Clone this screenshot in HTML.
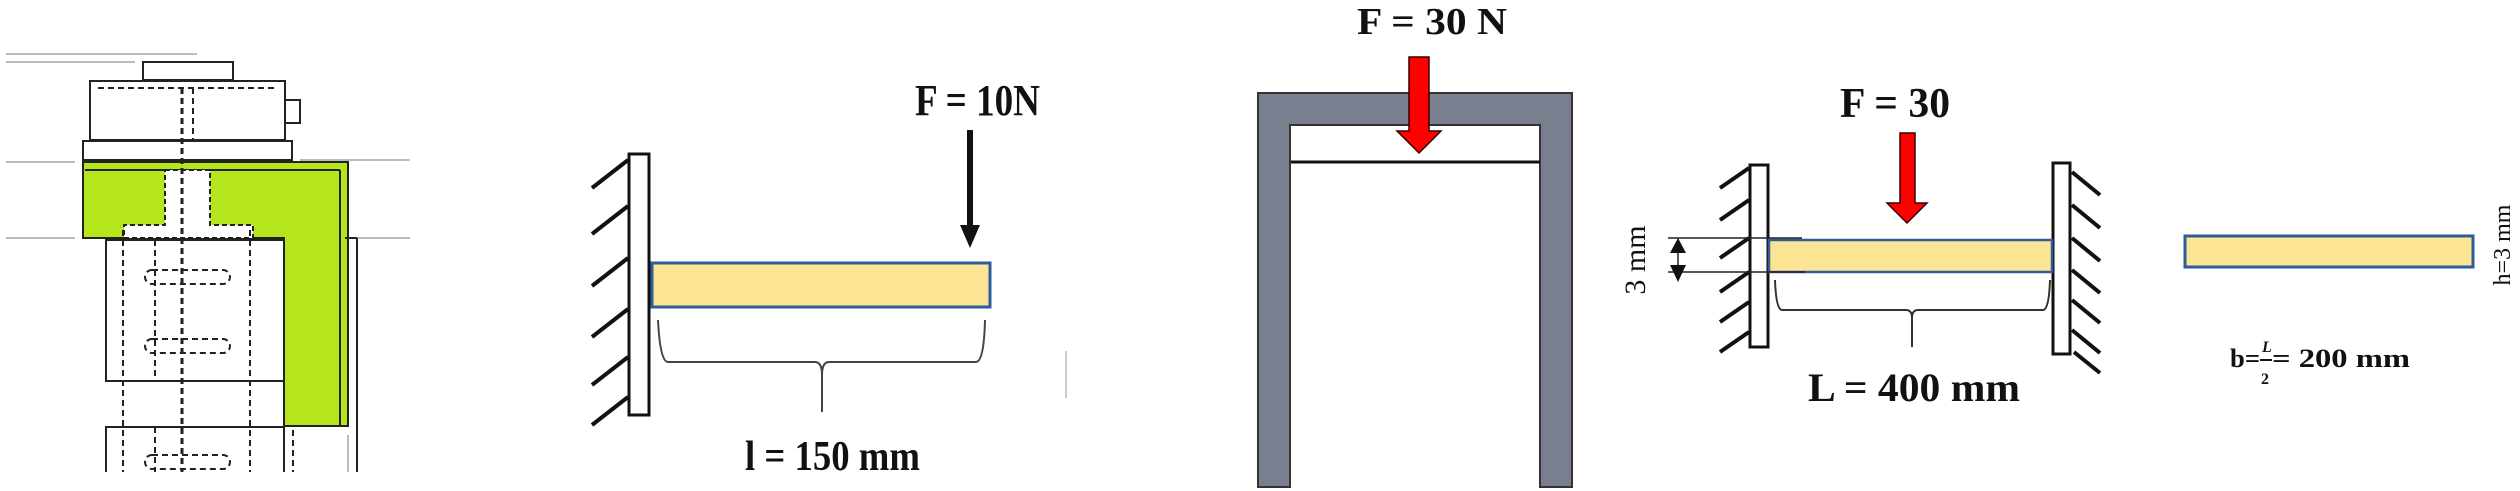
<!DOCTYPE html>
<html><head><meta charset="utf-8"><style>
html,body{margin:0;padding:0;background:#fff;}
svg{display:block;}
text{font-family:"Liberation Serif",serif;font-weight:bold;fill:#111;}
</style></head><body>
<svg width="2520" height="491" viewBox="0 0 2520 491" xmlns="http://www.w3.org/2000/svg">
<!-- Panel 1 -->
<g stroke="#bbb" stroke-width="2">
<line x1="6" y1="54" x2="197" y2="54"/><line x1="6" y1="62" x2="135" y2="62"/>
<line x1="6" y1="162" x2="75" y2="162"/><line x1="300" y1="160" x2="410" y2="160"/>
<line x1="6" y1="238" x2="75" y2="238"/><line x1="345" y1="238" x2="410" y2="238"/>
<line x1="348" y1="435" x2="348" y2="472"/>
</g>
<path d="M83 162 L348 162 L348 426 L284 426 L284 238 L83 238 Z" fill="#b5e61d" stroke="#222" stroke-width="2"/>
<line x1="340" y1="170" x2="340" y2="426" stroke="#222" stroke-width="2"/>
<line x1="85" y1="170" x2="340" y2="170" stroke="#222" stroke-width="2"/>
<path d="M165 170 L210 170 L210 225 L253 225 L253 238 L124 238 L124 225 L165 225 Z" fill="#fff" stroke="#222" stroke-width="2" stroke-dasharray="5 3"/>
<g fill="none" stroke="#222" stroke-width="2">
<rect x="143" y="62" width="90" height="18"/>
<rect x="90" y="81" width="195" height="59"/>
<rect x="285" y="100" width="15" height="23"/>
<rect x="83" y="141" width="209" height="19"/>
<rect x="106" y="240" width="178" height="141"/>
<path d="M106 472 L106 427 L284 427 L284 472"/>
<line x1="357" y1="238" x2="357" y2="472"/>
<line x1="345" y1="238" x2="357" y2="238"/>
</g>
<g stroke="#222" stroke-width="2" stroke-dasharray="6 4" fill="none">
<line x1="123" y1="230" x2="123" y2="472"/><line x1="155" y1="240" x2="155" y2="381"/>
<line x1="155" y1="427" x2="155" y2="472"/>
<line x1="182" y1="88" x2="182" y2="472" stroke-width="3"/><line x1="193" y1="88" x2="193" y2="140"/>
<line x1="250" y1="230" x2="250" y2="472"/><line x1="293" y1="430" x2="293" y2="472"/>
<path d="M98 88 L278 88"/>
<rect x="145" y="270" width="85" height="14" rx="7"/>
<rect x="145" y="339" width="85" height="14" rx="7"/>
<rect x="145" y="455" width="85" height="14" rx="7"/>
</g>
<!-- Panel 2 -->
<g stroke="#111" stroke-width="4">
<line x1="592" y1="188" x2="628" y2="160"/><line x1="592" y1="234" x2="628" y2="206"/>
<line x1="592" y1="286" x2="628" y2="258"/><line x1="592" y1="337" x2="628" y2="309"/>
<line x1="592" y1="385" x2="628" y2="357"/><line x1="592" y1="425" x2="628" y2="397"/>
</g>
<rect x="629" y="154" width="20" height="261" fill="#fff" stroke="#111" stroke-width="3"/>
<rect x="652" y="263" width="338" height="44" fill="#fde596" stroke="#2e5d9a" stroke-width="3"/>
<line x1="970" y1="130" x2="970" y2="228" stroke="#111" stroke-width="6"/>
<polygon points="960,225 980,225 970,248" fill="#111"/>
<text x="915" y="115" font-size="44" textLength="125" lengthAdjust="spacingAndGlyphs">F = 10N</text>
<path d="M658 320 Q660 362 668 362 L815 362 Q822 362 822 375 L822 412 M822 375 Q822 362 829 362 L976 362 Q984 362 985 320" fill="none" stroke="#444" stroke-width="2"/>
<text x="745" y="470" font-size="42" textLength="175" lengthAdjust="spacingAndGlyphs">l = 150 mm</text>
<line x1="1066" y1="351" x2="1066" y2="398" stroke="#ccc" stroke-width="2"/>
<!-- Panel 3 -->
<path d="M1258 93 L1572 93 L1572 487 L1540 487 L1540 125 L1290 125 L1290 487 L1258 487 Z" fill="#7a7f8f" stroke="#333" stroke-width="2"/>
<line x1="1291" y1="162" x2="1540" y2="162" stroke="#111" stroke-width="3"/>
<path d="M1409 57 L1429 57 L1429 131 L1441 131 L1419 153 L1397 131 L1409 131 Z" fill="#f00" stroke="#300" stroke-width="1.5"/>
<text x="1357" y="34" font-size="38" textLength="150" lengthAdjust="spacingAndGlyphs">F = 30 N</text>
<!-- Panel 4 -->
<g stroke="#111" stroke-width="4">
<line x1="1720" y1="188" x2="1749" y2="168"/><line x1="1720" y1="220" x2="1749" y2="200"/>
<line x1="1720" y1="258" x2="1749" y2="238"/><line x1="1720" y1="292" x2="1749" y2="272"/>
<line x1="1720" y1="322" x2="1749" y2="302"/><line x1="1720" y1="352" x2="1749" y2="332"/>
<line x1="2072" y1="172" x2="2100" y2="195"/><line x1="2072" y1="205" x2="2100" y2="228"/>
<line x1="2072" y1="238" x2="2100" y2="261"/><line x1="2072" y1="270" x2="2100" y2="293"/>
<line x1="2072" y1="300" x2="2100" y2="323"/><line x1="2072" y1="330" x2="2100" y2="353"/>
<line x1="2074" y1="352" x2="2100" y2="373"/>
</g>
<rect x="1750" y="165" width="18" height="182" fill="#fff" stroke="#111" stroke-width="3"/>
<rect x="2053" y="163" width="17" height="191" fill="#fff" stroke="#111" stroke-width="3"/>
<rect x="1769" y="240" width="283" height="32" fill="#fde596" stroke="#2e5d9a" stroke-width="2.5"/>
<g stroke="#222" stroke-width="1.5"><line x1="1668" y1="238" x2="1802" y2="238"/><line x1="1668" y1="272" x2="1805" y2="272"/><line x1="1678" y1="240" x2="1678" y2="270"/></g>
<polygon points="1678,238 1670,253 1686,253" fill="#111"/><polygon points="1678,282 1670,265 1686,265" fill="#111"/>
<text transform="translate(1645,260) rotate(-90)" text-anchor="middle" font-size="30" style="font-weight:normal">3 mm</text>
<path d="M1900 133 L1915 133 L1915 203 L1927 203 L1907 223 L1887 203 L1900 203 Z" fill="#f00" stroke="#300" stroke-width="1.5"/>
<text x="1840" y="117" font-size="42" textLength="110" lengthAdjust="spacingAndGlyphs">F = 30</text>
<path d="M1775 280 Q1776 310 1782 310 L1906 310 Q1912 310 1912 318 L1912 347 M1912 318 Q1912 310 1918 310 L2043 310 Q2049 310 2050 280" fill="none" stroke="#333" stroke-width="2"/>
<text x="1808" y="401" font-size="40" textLength="212" lengthAdjust="spacingAndGlyphs">L = 400 mm</text>
<!-- Panel 5 -->
<rect x="2185" y="236" width="288" height="31" fill="#fde596" stroke="#2e5d9a" stroke-width="3"/>
<text transform="translate(2510,245) rotate(-90)" text-anchor="middle" font-size="24" style="font-weight:normal">h=3 mm</text>
<text x="2230" y="367" font-size="26" textLength="30" lengthAdjust="spacingAndGlyphs">b=</text>
<text x="2262" y="352" font-size="16" font-style="italic">L</text>
<line x1="2260" y1="360" x2="2272" y2="360" stroke="#111" stroke-width="2"/>
<text x="2261" y="384" font-size="16">2</text>
<text x="2272" y="367" font-size="26" textLength="138" lengthAdjust="spacingAndGlyphs">= 200 mm</text>
</svg>
</body></html>
